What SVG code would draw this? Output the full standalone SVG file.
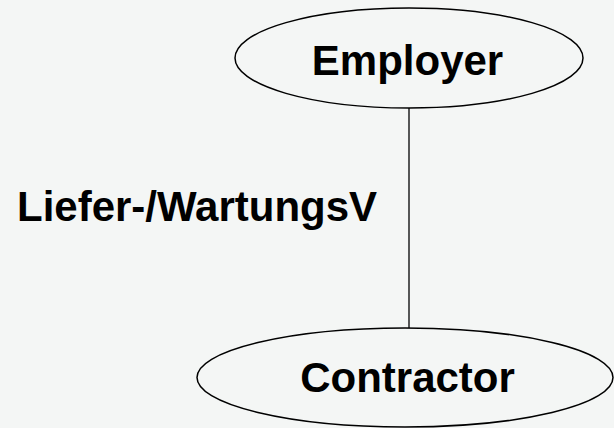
<svg xmlns="http://www.w3.org/2000/svg" width="614" height="428" viewBox="0 0 614 428">
  <style>
    .node { fill: none; stroke: #000; stroke-width: 1.5; }
    .label { font-family: "Liberation Sans", Arial, sans-serif; font-weight: bold; font-size: 42px; fill: #000; }
    .edge { stroke: #000; stroke-width: 1.3; fill: none; }
  </style>
  <rect width="614" height="428" fill="#f4f6f5"/>
  <g id="connectors">
    <line class="edge" x1="409" y1="108" x2="409" y2="328"/>
    <text class="label" x="17" y="221">Liefer-/WartungsV</text>
  </g>
  <g id="employer">
    <ellipse class="node" cx="409" cy="58" rx="174" ry="50"/>
    <text class="label" x="407.5" y="75" text-anchor="middle">Employer</text>
  </g>
  <g id="contractor">
    <ellipse class="node" cx="405" cy="377.5" rx="208" ry="49.5"/>
    <text class="label" x="407.5" y="392" text-anchor="middle">Contractor</text>
  </g>
</svg>
